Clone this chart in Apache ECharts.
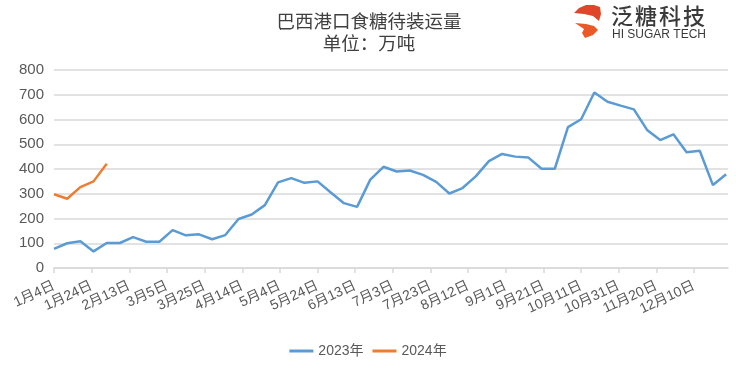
<!DOCTYPE html>
<html>
<head>
<meta charset="utf-8">
<script src="https://cdn.jsdelivr.net/npm/echarts@6/dist/echarts.min.js"></script>
<style>
html,body{margin:0;padding:0;background:#fff;}
#chart{width:736px;height:372px;}
</style>
</head>
<body>
<div id="chart"></div>
<script>
// Weekly observation dates (2023)
var weekDates = [
 '2023-01-04','2023-01-11','2023-01-18','2023-01-25','2023-02-01','2023-02-08','2023-02-15','2023-02-22',
 '2023-03-01','2023-03-08','2023-03-15','2023-03-22','2023-03-29','2023-04-05','2023-04-12','2023-04-19',
 '2023-04-26','2023-05-03','2023-05-10','2023-05-17','2023-05-24','2023-05-31','2023-06-07','2023-06-14',
 '2023-06-21','2023-06-28','2023-07-05','2023-07-12','2023-07-19','2023-07-26','2023-08-02','2023-08-09',
 '2023-08-16','2023-08-23','2023-08-30','2023-09-06','2023-09-13','2023-09-20','2023-09-27','2023-10-04',
 '2023-10-11','2023-10-18','2023-10-25','2023-11-01','2023-11-08','2023-11-15','2023-11-22','2023-11-29',
 '2023-12-06','2023-12-13','2023-12-20','2023-12-27'
];
var values2023 = [
 77,100,108,67,101,101,125,106,106,153,132,136,116,133,198,216,
 254,346,363,344,350,305,262,247,357,409,390,394,376,348,301,323,
 370,432,461,450,446,401,401,569,601,709,672,656,641,558,517,540,
 468,474,335,379
];
var values2024 = [298,280,327,350,421];
var tickDates = [
 '2023-01-04','2023-01-24','2023-02-13','2023-03-05','2023-03-25','2023-04-14','2023-05-04','2023-05-24',
 '2023-06-13','2023-07-03','2023-07-23','2023-08-12','2023-09-01','2023-09-21','2023-10-11','2023-10-31',
 '2023-11-20','2023-12-10'
];
var seriesNames = ['2023年','2024年'];
var yTicks = [0,100,200,300,400,500,600,700,800];

var DAY = 86400000;
var base = Date.UTC(2023,0,4);
function toDay(s){ var p=s.split('-'); return Math.round((Date.UTC(+p[0],+p[1]-1,+p[2])-base)/DAY); }
function dayLabel(v){ var d=new Date(base+v*DAY); return (d.getUTCMonth()+1)+'月'+d.getUTCDate()+'日'; }

var dayX = weekDates.map(toDay);
var tickX = tickDates.map(toDay);
var d2023 = values2023.map(function(v,i){return [dayX[i],v];});
var d2024 = values2024.map(function(v,i){return [dayX[i],v];});

var textColor = '#595959';
var logoChars = ['泛','糖','科','技'];
var logoGraphics = logoChars.map(function(c,i){
  return {type:'text',left:611+i*24,top:5,style:{text:c,fontFamily:'Noto Sans CJK SC',fontSize:22,fontWeight:500,fill:'#3a3a3a'}};
});

var chart = echarts.init(document.getElementById('chart'), null, {renderer:'canvas'});
chart.setOption({
  animation:false,
  backgroundColor:'#fff',
  title:{
    text:'巴西港口食糖待装运量',
    subtext:'单位：万吨',
    left:364, textAlign:'center', top:7, itemGap:3,
    textStyle:{fontFamily:'Noto Sans CJK SC',fontSize:18.5,fontWeight:'normal',color:'#404040'},
    subtextStyle:{fontFamily:'Noto Sans CJK SC',fontSize:18.5,color:'#404040'}
  },
  legend:{
    bottom:9, left:'center', itemGap:9, itemWidth:24, itemHeight:3, icon:'rect',
    textStyle:{fontFamily:'Liberation Sans, Noto Sans CJK SC',fontSize:14,color:textColor},
    data:seriesNames
  },
  grid:{left:54, right:8, top:70, bottom:104, containLabel:false},
  xAxis:{
    type:'value', min:0, max:358,
    axisLine:{show:true,lineStyle:{color:'#d9d9d9',width:1.5}},
    axisTick:{show:true,length:5,lineStyle:{color:'#d9d9d9',width:1.5},customValues:tickX},
    splitLine:{show:false},
    axisLabel:{
      customValues:tickX, rotate:25, margin:17, formatter:dayLabel,
      fontFamily:'Liberation Sans, Noto Sans CJK SC', fontSize:14, color:textColor
    }
  },
  yAxis:{
    type:'value', min:yTicks[0], max:yTicks[yTicks.length-1], interval:100,
    axisLine:{show:false}, axisTick:{show:false},
    splitLine:{lineStyle:{color:'#d9d9d9',width:1.5}},
    axisLabel:{fontFamily:'Liberation Sans',fontSize:15,color:textColor,margin:10}
  },
  series:[
    {name:seriesNames[0],type:'line',data:d2023,symbol:'none',
     lineStyle:{color:'#5b9bd5',width:2.5},itemStyle:{color:'#5b9bd5'}},
    {name:seriesNames[1],type:'line',data:d2024,symbol:'none',
     lineStyle:{color:'#ed7d31',width:2.5},itemStyle:{color:'#ed7d31'}}
  ],
  graphic:[
    {type:'polygon',shape:{points:[[574,13],[579,8],[586,5],[594,5],[600,7],[601,14],[599,21],[593,16],[584,14]]},
     style:{fill:'#e0462a'}},
    {type:'polygon',shape:{points:[[575,23],[586,24],[594,26],[598,30],[593,35],[585,38],[582,33],[584,29]]},
     style:{fill:'#ea5a28'}},
    {type:'text',left:612,top:29,style:{text:'HI SUGAR TECH',fontFamily:'Liberation Sans',fontSize:12,fill:'#3a3a3a'}}
  ].concat(logoGraphics)
});
</script>
</body>
</html>
